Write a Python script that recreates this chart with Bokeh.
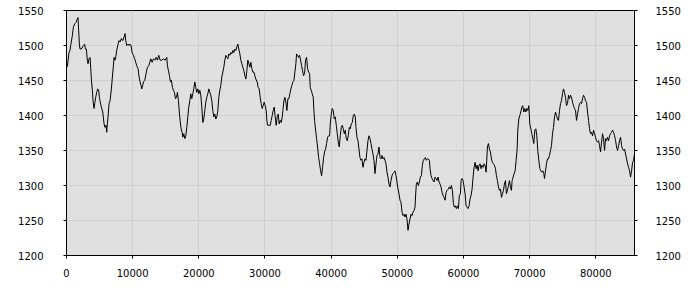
from bokeh.plotting import figure
from bokeh.models import Range1d, LinearAxis, FixedTicker, NumeralTickFormatter
from bokeh.embed import file_html
from bokeh.resources import INLINE

# ---- data (segments left to right) ----
x_seg1 = [0,126,378,530,631,883,1034,1236,1437,1639, 1740,1841,1942,2043,2244,2446,2547,2749,2850,3001,
          3152,3253,3404,3556,3656,3757,3909,4009,4161,4262, 4413,4564,4715,4867,4968,5068,5270,5472,5573,5674,
          5825,5976,6077,6178,6279,6430,6581,6783,6934,7086, 7187,7338,7439,7590,7792,7943,8094,8296,8498,8699,
          8851,8952,9103,9305,9456,9607,9758,9910,10111,10313, 10464,10616,10817,10969,11120,11271,11372,11523,11624,11826,
          12028,12230,12431,12583,12734,12936,13137,13339,13541,13742, 13944,14146]
y_seg1 = [1476,1470,1490,1493,1500,1514,1526,1531,1533,1538, 1540,1521,1502,1495,1495,1498,1500,1502,1495,1495,
          1479,1474,1481,1483,1469,1452,1436,1421,1410,1417, 1426,1433,1438,1436,1426,1421,1412,1405,1398,1388,
          1383,1386,1376,1388,1398,1417,1421,1438,1455,1471, 1483,1479,1483,1493,1502,1507,1505,1510,1507,1512,
          1517,1507,1500,1502,1500,1502,1500,1490,1486,1481, 1476,1471,1467,1455,1448,1443,1438,1443,1448,1450,
          1460,1469,1471,1476,1481,1476,1481,1479,1483,1479, 1486,1479]

x_seg2 = [14399,14651,14903,15156,15256,15408,15559,15710,15862,16013, 16164,16315,16467,16618,16769,16921,17072,17173,17324,17475,
          17576,17728,17879,18030,18181,18333,18484,18635,18787,18938, 19089,19240,19392,19543,19694,19846,19997,20148,20299,20451,
          20602,20753,20905,21056,21207,21358,21510,21661,21812,21964, 22115,22266,22418,22569,22720,22871,23023,23174,23325,23477,
          23628,23779,23930,24082,24233,24384,24536,24687,24838,24989, 25141,25292,25443,25595,25746,25897,26048,26200,26351,26502,
          26654,26805,26956,27108,27259,27410,27561,27713,27864,28015, 28167,28318,28469,28620]
y_seg2 = [1479,1481,1479,1483,1471,1464,1457,1448,1450,1440, 1436,1433,1424,1426,1433,1421,1402,1393,1381,1376,
          1369,1374,1367,1371,1383,1398,1412,1421,1431,1424, 1431,1438,1448,1440,1433,1438,1431,1436,1429,1412,
          1390,1395,1407,1419,1426,1431,1438,1433,1429,1421, 1407,1398,1402,1395,1398,1407,1426,1436,1443,1455,
          1462,1469,1479,1486,1483,1481,1488,1486,1490,1488, 1493,1490,1495,1493,1498,1502,1495,1488,1479,1474,
          1469,1464,1457,1452,1464,1479,1474,1469,1476,1467, 1462,1462,1457,1452]

x_seg3 = [28822,28974,29125,29276,29427,29579,29730,29881,30033,30184, 30285,30386,30587,30789,30940,31092,31243,31394,31546,31697,
          31848,31999,32151,32302,32453,32605,32705,32857,33008,33159, 33311,33462,33613,33764,33916,34067,34218,34370,34521,34672,
          34773,34924,35076,35227,35378,35529,35681,35832,35983,36135, 36286,36437,36589,36740,36841,36992,37143,37295,37395,37496,
          37648,37799,37950,38101,38253,38404,38555,38707,38858,39009, 39160,39312,39463,39614,39766,39866,40018,40169,40320,40472,
          40623,40774,40925,41077,41228,41379,41531,41682,41833,41985, 42136,42287,42438,42590,42741,42892,43044]
y_seg3 = [1448,1440,1438,1426,1417,1410,1414,1419,1414,1407, 1393,1386,1386,1386,1393,1400,1407,1412,1398,1386,
          1398,1402,1388,1393,1390,1398,1407,1421,1426,1419, 1407,1424,1424,1431,1438,1443,1448,1450,1462,1474,
          1488,1486,1483,1486,1479,1471,1464,1457,1460,1479, 1483,1467,1462,1460,1440,1436,1431,1426,1407,1393,
          1379,1367,1355,1340,1331,1321,1314,1326,1340,1348, 1352,1360,1369,1371,1371,1388,1402,1410,1407,1395,
          1398,1386,1374,1362,1355,1371,1383,1386,1381,1374, 1379,1367,1364,1371,1383,1381,1388]

x_seg4 = [43196,43347,43499,43650,43751,43902,44053,44205,44356,44507, 44658,44810,44961,45112,45264,45415,45566,45718,45869,46020,
          46171,46323,46474,46625,46777,46928,47079,47230,47382,47533, 47684,47836,47987,48138,48289,48441,48592,48743,48895,49046,
          49197,49348,49500,49651,49802,49954,50105,50256,50407,50559, 50710,50861,51013,51164,51315,51467,51618,51769,51920,52072,
          52223,52374,52526,52677,52778,52879,53030,53181,53333,53484, 53635,53787,53938,54089,54240,54392,54543,54694,54846,54946,
          55098,55249,55400,55551,55703,55854,56005,56157,56308,56459, 56610,56762,56913,57064,57216,57367,57518]
y_seg4 = [1390,1400,1402,1398,1383,1369,1364,1352,1340,1336, 1338,1326,1333,1338,1336,1350,1364,1371,1367,1360,
          1352,1345,1336,1317,1331,1343,1345,1355,1340,1338, 1343,1338,1340,1336,1331,1319,1312,1302,1298,1307,
          1314,1317,1319,1321,1314,1305,1295,1288,1279,1276, 1262,1257,1259,1255,1259,1252,1236,1245,1252,1259,
          1257,1262,1264,1269,1288,1302,1305,1300,1305,1312, 1314,1329,1336,1338,1340,1336,1338,1338,1336,1324,
          1314,1310,1307,1305,1312,1310,1307,1312,1305,1302, 1298,1290,1286,1283,1279,1290,1293]

x_seg5 = [57721,57872,58024,58175,58326,58477,58629,58780,58931,59083, 59234,59385,59536,59637,59789,59940,60091,60243,60394,60545,
          60696,60848,60999,61150,61302,61453,61604,61755,61907,62058, 62209,62361,62512,62663,62814,62966,63117,63268,63420,63520,
          63621,63773,63924,64075,64226,64378,64529,64680,64832,64983, 65134,65286,65437,65588,65739,65891,66042,66193,66345,66496,
          66647,66798,66950,67101,67252,67353,67504,67656,67807,67958, 68110,68210,68362,68513,68664,68816,68967,69118,69269,69421,
          69572,69723,69875,70026,70177,70329,70480,70631,70782,70934, 71085,71236,71388,71539,71690,71841,71993,72144]
y_seg5 = [1295,1298,1295,1300,1293,1274,1269,1271,1267,1271, 1267,1286,1288,1307,1310,1307,1298,1288,1271,1269,
          1267,1271,1281,1286,1295,1312,1326,1333,1324,1329, 1321,1329,1331,1324,1329,1326,1331,1329,1319,1336,
          1355,1360,1352,1348,1338,1333,1331,1329,1324,1314, 1307,1298,1293,1295,1283,1288,1293,1302,1307,1288,
          1293,1300,1307,1298,1293,1307,1312,1317,1321,1336, 1352,1379,1395,1400,1405,1412,1414,1405,1410,1405,
          1410,1407,1414,1388,1381,1374,1367,1360,1379,1381, 1371,1350,1336,1324,1321,1319,1321,1317]

x_seg6 = [72246,72397,72549,72700,72851,73002,73154,73305,73456,73608, 73759,73910,74061,74213,74364,74515,74667,74818,74969,75121,
          75272,75423,75574,75726,75877,76028,76180,76331,76482,76633, 76785,76936,77087,77239,77390,77541,77693,77844,77995,78146,
          78298,78449,78600,78752,78903,79054,79205,79357,79508,79659, 79811,79962,80113,80264,80416,80567,80718,80870,81021,81172,
          81323,81475,81626,81777,81929,82080,82231,82383,82534,82685, 82836,82988,83139,83290,83442,83593,83744,83895,84047,84198,
          84349,84501,84652,84803,84954,85106,85257,85408,85560,85711, 85811]
y_seg6 = [1310,1321,1331,1338,1338,1343,1350,1357,1374,1383, 1398,1405,1400,1395,1393,1407,1417,1421,1431,1438,
          1433,1426,1414,1417,1429,1424,1429,1426,1419,1414, 1410,1407,1393,1402,1410,1417,1419,1417,1424,1429,
          1426,1421,1419,1405,1393,1381,1374,1376,1371,1379, 1374,1369,1364,1362,1364,1357,1348,1362,1374,1367,
          1350,1367,1364,1369,1364,1371,1374,1376,1379,1376, 1371,1364,1355,1350,1357,1364,1369,1357,1352,1350,
          1352,1345,1338,1331,1326,1321,1312,1321,1333,1336, 1343]

x_ticks = [0, 10000, 20000, 30000, 40000, 50000, 60000, 70000, 80000]
y_ticks = [1200, 1250, 1300, 1350, 1400, 1450, 1500, 1550]
x_limits = (0, 85850)
y_limits = (1200, 1550)

xs = x_seg1 + x_seg2 + x_seg3 + x_seg4 + x_seg5 + x_seg6
ys = y_seg1 + y_seg2 + y_seg3 + y_seg4 + y_seg5 + y_seg6

p = figure(width=700, height=300, output_backend="svg", toolbar_location=None,
           x_range=Range1d(*x_limits), y_range=Range1d(*y_limits),
           min_border_left=66, min_border_right=66, min_border_top=10, min_border_bottom=45)
p.background_fill_color = "#e0e0e0"
p.border_fill_color = "white"
p.outline_line_color = "black"
p.outline_line_alpha = 1.0
p.outline_line_width = 1

p.line(xs, ys, line_color="black", line_width=1)

right_axis = LinearAxis()
p.add_layout(right_axis, "right")

for ax in [p.xaxis[0], p.yaxis[0], right_axis]:
    ax.axis_line_color = "black"
    ax.major_tick_line_color = "black"
    ax.major_tick_out = 3
    ax.major_tick_in = 0
    ax.minor_tick_line_color = None
    ax.major_label_text_font = "DejaVu Sans"
    ax.major_label_text_font_size = "10px"
    ax.major_label_text_color = "black"
    ax.formatter = NumeralTickFormatter(format="0")

p.xaxis[0].ticker = FixedTicker(ticks=x_ticks)
p.yaxis[0].ticker = FixedTicker(ticks=y_ticks)
right_axis.ticker = FixedTicker(ticks=y_ticks)
p.xaxis[0].major_label_standoff = 10
p.yaxis[0].major_label_standoff = 20
right_axis.major_label_standoff = 18

p.xgrid.ticker = FixedTicker(ticks=x_ticks)
p.ygrid.ticker = FixedTicker(ticks=y_ticks)
p.xgrid.grid_line_color = "#d0d0d0"
p.ygrid.grid_line_color = "#d0d0d0"

open("out.html", "w").write(file_html(p, INLINE))
